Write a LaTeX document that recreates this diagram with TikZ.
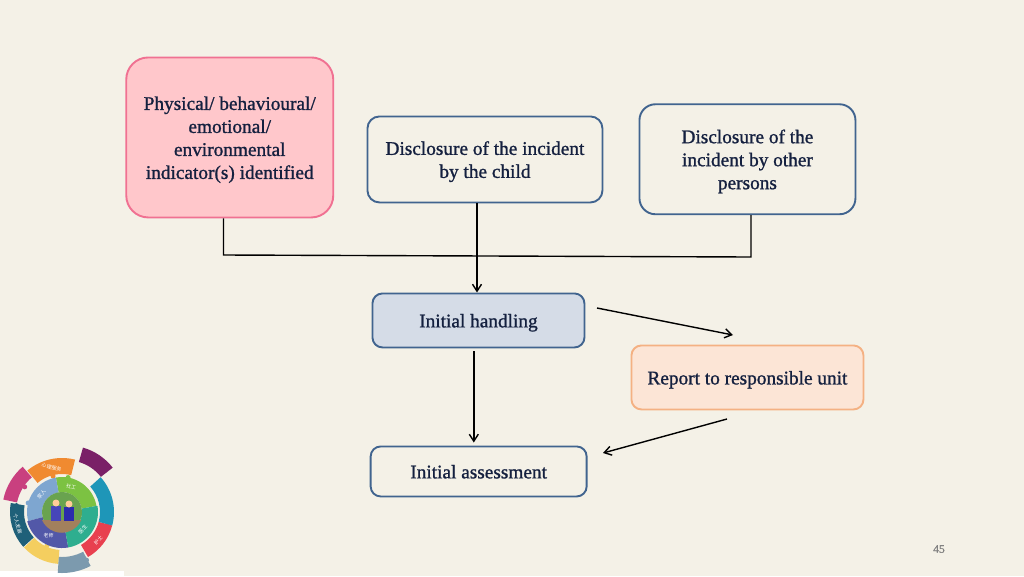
\documentclass[tikz,border=0pt]{standalone}
\usepackage{fontspec}
\setmainfont[FakeBold=1.1]{Liberation Serif}
\newfontfamily\cjk{Noto Sans CJK SC}
\usetikzlibrary{arrows.meta,calc}
\definecolor{bgc}{HTML}{F4F1E7}
\definecolor{blueline}{HTML}{41648F}
\definecolor{txt}{HTML}{14203F}
\definecolor{lorange}{HTML}{F08A30}
\definecolor{lmag}{HTML}{C9407F}
\definecolor{ldteal}{HTML}{1F6079}
\definecolor{lyel}{HTML}{F4CE5F}
\definecolor{lgrey}{HTML}{7C9AAE}
\definecolor{lred}{HTML}{E8404F}
\definecolor{ltb}{HTML}{1E96B8}
\definecolor{lpur}{HTML}{7A2067}
\definecolor{lgreen}{HTML}{7CC242}
\definecolor{lblue}{HTML}{7EA6D0}
\definecolor{lpb}{HTML}{5258A8}
\definecolor{lteal}{HTML}{2EAE8F}
\tikzset{
  x=1pt,y=-1pt,
  box/.style={draw=blueline,line width=1.9pt,rounded corners=12pt,fill=bgc,align=center,
    text=txt,font=\fontsize{19.3}{23}\selectfont,inner sep=0pt,anchor=north west},
  conn/.style={draw=black,line width=1.4pt},
  arr/.style={conn,-{Straight Barb[length=7pt,width=9pt]}},
  lbl/.style={text=white,font=\cjk\fontsize{5}{5}\selectfont,inner sep=0pt},
}
\newcommand{\sect}[5]{\fill[#1] (#4:#2) arc[start angle=#4,end angle=#5,radius=#2] -- (#5:#3) arc[start angle=#5,end angle=#4,radius=#3] -- cycle;}
\newcommand{\tr}{\rule{0pt}{18pt}}
\begin{document}
\begin{tikzpicture}
\useasboundingbox (0,0) rectangle (1024,576);
\fill[bgc] (0,0) rectangle (1024,576);
\fill[white] (0,571) rectangle (124,576);
% logo
\begin{scope}[shift={(62,512)},x=1pt,y=1pt]
\sect{lorange}{38}{54}{76}{130}
\fill[lorange] (104:37) circle[radius=2.5];
\sect{lmag}{46}{60}{131}{168}
\fill[lmag] (146:45) circle[radius=2.5];
\sect{ldteal}{38}{52}{170}{222}
\fill[ldteal] (172:46) circle[radius=2.5];
\sect{lyel}{38}{52}{223}{266}
\fill[lyel] (246:37) circle[radius=2.5];
\sect{lgrey}{45}{61}{266}{298}
\fill[lgrey] (297:54) circle[radius=2.5];
\sect{lred}{38}{52}{-60}{-15}
\fill[lred] (-16:47) circle[radius=2.5];
\sect{ltb}{38}{52}{-15}{42}
\begin{scope}[shift={(60:10)}]
\sect{lpur}{43}{58}{38}{74}
\fill[lpur] (41:50) circle[radius=2.5];
\end{scope}
\sect{lgreen}{20}{35}{10}{100}
\fill[lgreen] (80:35) circle[radius=2.5];
\sect{lblue}{20}{35}{100}{195}
\sect{lpb}{20}{36}{195}{280}
\sect{lteal}{20}{36}{280}{370}
\fill[lteal] (-5:20) circle[radius=2];
\fill[lblue] (165:35) circle[radius=2.5];
\fill[lpb] (225:20) circle[radius=2];
\fill[green!35!gray!80!brown] (0,0) circle[radius=20];
\fill[brown!55!gray] (-20,-8) arc[start angle=204,end angle=336,radius=21.5] -- cycle;
\fill[blue!45!gray] (-11,-9) rectangle (-1,6);
\fill[blue!60!gray!85!black] (2,-9) rectangle (12,5);
\fill[orange!40!white] (-6,9) circle[radius=3.5];
\fill[orange!40!white] (7,8) circle[radius=3.5];
\node[lbl,rotate=-12] (l1) at (103:46) {心理服务};
\node[lbl,rotate=-15] (l2) at (70:27) {社工};
\node[lbl,rotate=50] (l3) at (140:27) {家人};
\node[lbl,rotate=0] (l4) at (240:27) {老师};
\node[lbl,rotate=45] (l5) at (320:27) {医生};
\node[lbl,rotate=45] (l6) at (-38:46) {护士};
\node[lbl,rotate=-75] (l7) at (195:46) {个人发展};
\end{scope}
% boxes
\node[box,draw={rgb,255:red,240;green,113;blue,146},fill={rgb,255:red,255;green,199;blue,203},rounded corners=22pt,minimum width=207pt,minimum height=160pt] (a) at (125.3,56.5) {\tr Physical/ behavioural/\\emotional/\\environmental\\indicator(s) identified};
\node[box,minimum width=235pt,minimum height=86pt] (b) at (366.5,115.5) {\tr Disclosure of the incident\\by the child};
\node[box,minimum width=216pt,minimum height=110pt,rounded corners=16pt] (c) at (638.5,103.3) {\tr Disclosure of the\\incident by other\\persons};
\node[box,fill={rgb,255:red,213;green,220;blue,231},minimum width=212pt,minimum height=54pt,rounded corners=10pt] (d) at (371.5,292.5) {\tr Initial handling};
\node[box,draw={rgb,255:red,244;green,177;blue,131},fill={rgb,255:red,252;green,229;blue,214},minimum width=232pt,minimum height=64pt,rounded corners=10pt] (e) at (630.5,344.5) {\tr Report to responsible unit};
\node[box,minimum width=216pt,minimum height=50pt,rounded corners=10pt] (f) at (369.7,445.5) {\rule{0pt}{14pt}Initial assessment};
\node[text={rgb,255:red,130;green,130;blue,130},font=\fontsize{11.5}{13}\selectfont,inner sep=0pt] (pg) at (939,549) {45};
% connectors
\coordinate (j1) at (223.5,255);
\coordinate (j2) at (477,256);
\coordinate (j3) at (751,257);
\coordinate (j4) at (473.8,400);
\coordinate (r1) at (597,308);
\coordinate (r2) at (733,335);
\coordinate (s1) at (727,419);
\coordinate (s2) at (603,453);
\draw[conn] (a.south -| j1) -- (j1) -- (j3) -- (c.south -| j3);
\draw[arr] (b.south -| j2) -- (d.north -| j2);
\draw[arr,shorten <=3pt,shorten >=3pt] (d.south -| j4) -- (f.north -| j4);
\draw[arr] (r1) -- (r2);
\draw[arr] (s1) -- (s2);
\end{tikzpicture}
\end{document}
